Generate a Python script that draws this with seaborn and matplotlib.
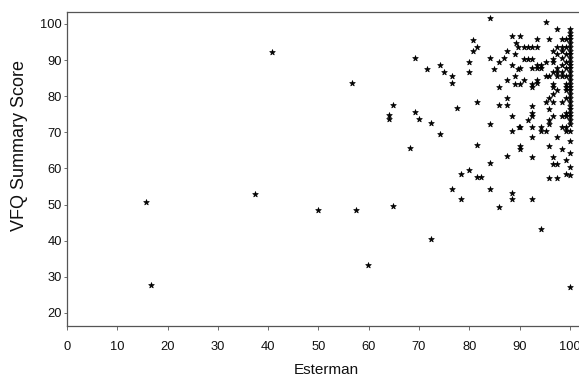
import matplotlib
matplotlib.use("Agg")
import matplotlib.pyplot as plt
import seaborn as sns
import pandas as pd

esterman = [
    15.8, 16.7, 37.4, 40.8, 50.0, 56.6, 57.5, 59.8, 64.1, 64.1, 64.9, 64.9,
    68.3, 69.1, 69.1, 69.9, 71.6, 72.3, 72.4, 74.2, 74.2, 75.0,
    76.6, 76.6, 76.6, 77.5, 78.3, 78.3, 79.9, 79.9, 79.9, 80.8, 80.8,
    81.6, 81.6, 81.6, 81.6, 82.4, 84.2, 84.2, 84.2, 84.2, 84.2, 84.9,
    85.9, 85.9, 85.9, 85.9, 86.8, 87.5, 87.5, 87.5, 87.5, 87.5,
    88.4, 88.4, 88.4, 88.4, 88.4, 88.4,
    89.3, 89.1, 89.7, 89.1, 89.7, 89.1, 89.9,
    90.0, 90.0, 90.0, 90.0, 90.0, 90.0,
    90.9, 90.9, 90.9, 91.7, 91.7, 91.7,
    92.5, 92.5, 92.5, 92.5, 92.5, 92.5, 92.5, 92.5, 92.5, 92.5, 92.5, 92.5,
    93.4, 93.4, 93.4, 93.4, 93.4, 93.4,
    94.2, 94.2, 94.2, 94.2, 94.2,
    95.2, 95.2, 95.2, 95.2, 95.2,
    95.9, 95.9, 95.9, 95.9, 95.9, 95.9, 95.9, 95.9,
    96.7, 96.7, 96.7, 96.7, 96.7, 96.7, 96.7, 96.7, 96.7, 96.7, 96.7,
    97.5, 97.5, 97.5, 97.5, 97.5, 97.5, 97.5, 97.5, 97.5, 97.5,
    98.4, 98.4, 98.4, 98.4, 98.4, 98.4, 98.4, 98.4, 98.4, 98.4, 98.4,
    99.2, 99.2, 99.2, 99.2, 99.2, 99.2, 99.2, 99.2, 99.2, 99.2, 99.2, 99.2,
    99.2, 99.2, 99.2, 99.2,
    100.0, 100.0, 100.0, 100.0, 100.0, 100.0, 100.0, 100.0, 100.0, 100.0,
    100.0, 100.0, 100.0, 100.0, 100.0, 100.0, 100.0, 100.0, 100.0, 100.0,
    100.0, 100.0, 100.0, 100.0, 100.0, 100.0, 100.0, 100.0, 100.0, 100.0,
    100.0, 100.0, 100.0,
]

vfq = [
    50.8, 27.8, 52.8, 92.3, 48.5, 83.7, 48.5, 33.3, 74.7, 73.7, 77.7, 49.6,
    65.6, 90.7, 75.7, 73.7, 87.6, 40.5, 72.6, 88.6, 69.6, 86.7,
    85.6, 83.6, 54.4, 76.7, 58.6, 51.5, 89.5, 86.6, 59.5, 95.5, 92.6,
    93.7, 78.5, 66.6, 57.5, 57.5, 101.7, 90.6, 72.4, 61.6, 54.4, 87.6,
    89.5, 82.5, 77.5, 49.4, 90.6, 92.6, 84.5, 79.6, 77.5, 63.5,
    96.6, 88.6, 74.4, 70.5, 53.3, 51.5,
    94.6, 91.6, 93.6, 85.6, 87.6, 83.4, 71.4,
    96.6, 87.7, 83.4, 66.3, 65.3, 71.4,
    93.7, 90.4, 84.6, 93.7, 90.4, 73.5,
    93.5, 90.4, 87.7, 83.4, 82.5, 77.3, 75.3, 74.4, 71.4, 68.6, 63.3, 51.5,
    95.7, 93.7, 88.6, 87.7, 84.6, 83.7,
    88.6, 87.7, 71.4, 70.5, 43.3,
    100.6, 89.5, 85.6, 78.5, 70.5,
    95.7, 85.6, 79.4, 76.4, 73.5, 72.4, 66.3, 57.4,
    92.5, 90.4, 89.5, 86.6, 83.4, 82.5, 80.5, 78.5, 74.4, 63.3, 61.3,
    98.6, 93.7, 91.6, 87.7, 86.6, 85.6, 81.6, 68.6, 61.3, 57.4,
    95.7, 93.7, 92.6, 90.6, 88.6, 86.6, 85.6, 78.5, 74.4, 71.4, 65.3,
    95.7, 93.7, 91.6, 89.5, 87.7, 85.6, 83.4, 82.5, 81.6, 79.4, 75.3, 74.4,
    71.4, 70.5, 62.4, 58.4,
    98.6, 97.6, 96.6, 95.7, 94.7, 93.7, 92.6, 91.6, 90.6, 89.5,
    88.6, 87.7, 86.6, 85.6, 84.6, 83.4, 82.5, 81.6, 80.5, 79.4,
    78.5, 77.3, 75.3, 74.4, 72.4, 70.5, 67.6, 64.3, 60.3, 58.3,
    27.2, 76.4, 73.5,
]

x_ticks = [0, 10, 20, 30, 40, 50, 60, 70, 80, 90, 100]
y_ticks = [20, 30, 40, 50, 60, 70, 80, 90, 100]

df = pd.DataFrame({"Esterman": esterman, "VFQ Summary Score": vfq})

sns.set_style("ticks")
plt.rcParams["font.family"] = ["Liberation Sans", "DejaVu Sans"]

fig = plt.figure(figsize=(5.79, 3.77), dpi=100)
ax = fig.add_axes([67 / 579, 1 - 326 / 377, (585 - 67) / 579, (326 - 12) / 377])

sns.scatterplot(data=df, x="Esterman", y="VFQ Summary Score", marker="*",
                s=18, color="black", edgecolor="black", linewidth=0.5, ax=ax)

ax.set_xlim(0, 103)
ax.set_ylim(16.4, 103.3)
ax.set_xticks(x_ticks)
ax.set_yticks(y_ticks)
ax.tick_params(axis="x", labelsize=9.3, length=3, width=0.6, color="#555555",
               pad=8, labelcolor="#111111")
ax.tick_params(axis="y", labelsize=9.3, length=2, width=0.6, color="#555555",
               pad=1.5, labelcolor="#111111")
for s in ["left", "bottom", "top"]:
    ax.spines[s].set_linewidth(0.9)
    ax.spines[s].set_color("#555555")
ax.spines["right"].set_visible(False)
ax.set_xlabel("Esterman", fontsize=11, labelpad=7, color="#111111")
ax.set_ylabel("VFQ Summary Score", fontsize=13, color="#111111")
ax.yaxis.set_label_coords(-0.0753, 0.576)

fig.savefig("out.png", dpi=100)
